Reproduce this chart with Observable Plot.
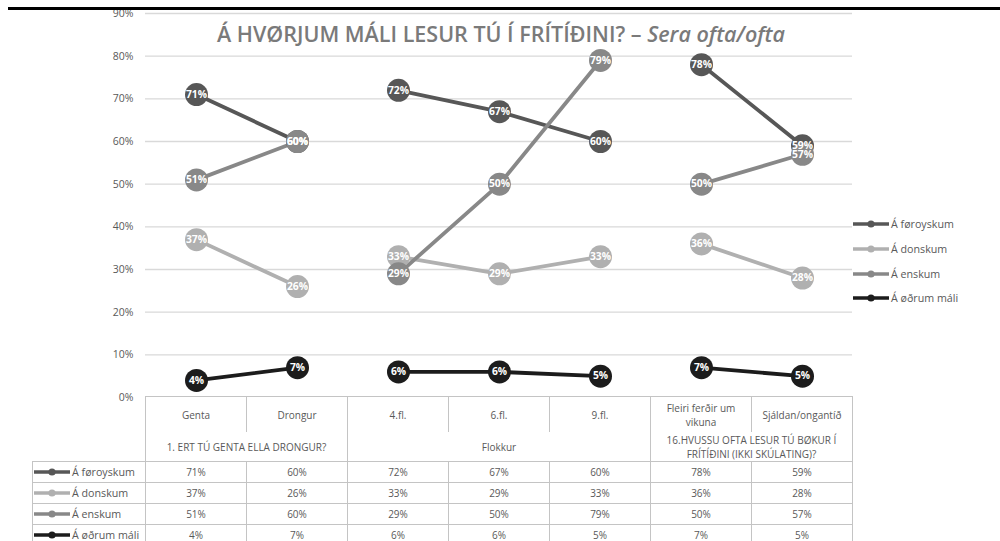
<!DOCTYPE html>
<html>
<head>
<meta charset="utf-8">
<script src="https://cdn.jsdelivr.net/npm/d3@7"></script>
<script src="https://cdn.jsdelivr.net/npm/@observablehq/plot@0.6"></script>
<style>
  html, body { margin: 0; padding: 0; background: #fff; width: 1000px; height: 541px; overflow: hidden; }
  #wrap { position: relative; width: 1000px; height: 541px; font-family: "Open Sans", Lato, sans-serif; color: #595959; }
  #topline { position: absolute; left: 8px; top: 7px; width: 992px; height: 2.5px; background: #000; z-index: 5; }
  #title { position: absolute; left: 145px; width: 712px; top: 20px; text-align: center; font-size: 21.5px; font-weight: 600; color: #7a7a7a; white-space: nowrap; line-height: 28px; }
  #title i { font-style: italic; }
  #chart { position: absolute; left: 0; top: 0; }
  #legend { position: absolute; left: 852px; top: 212px; font-size: 10.7px; }
  #legend .item { height: 24.7px; display: flex; align-items: center; }
  #legend svg, #tbl svg { margin-right: 1px; }
  #tbl { position: absolute; left: 32px; top: 396px; border-collapse: collapse; table-layout: fixed; font-size: 10px; color: #595959; }
  #tbl td { border: 1px solid #c4c4c4; text-align: center; padding: 0; line-height: 14px; white-space: nowrap; }
  #tbl td.blank { border: none; border-right: 1px solid #c4c4c4; }
  #tbl tr.r1 td { height: 35px; border-bottom: none; }
  #tbl tr.r2 td { height: 29px; border-top: none; }
  #tbl tr.rd td { height: 20px; }
  #tbl td.lg { text-align: left; font-size: 10.7px; }
  #tbl td.lg div { display: flex; align-items: center; }
</style>
</head>
<body>
<div id="wrap">
  <div id="chart"></div>
  <div id="title">Á HVØRJUM MÁLI LESUR TÚ Í FRÍTÍÐINI? – <i>Sera ofta/ofta</i></div>
  <div id="legend"></div>
  <table id="tbl"></table>
  <div id="topline"></div>
</div>
<script>
// ---- data ----
const categories = ["Genta", "Drongur", "4.fl.", "6.fl.", "9.fl.", "Fleiri ferðir um vikuna", "Sjáldan/ongantíð"];
const categoryGroup = [0, 0, 1, 1, 1, 2, 2];
const groupLabels = ["1. ERT TÚ GENTA ELLA DRONGUR?", "Flokkur", "16.HVUSSU OFTA LESUR TÚ BØKUR Í FRÍTÍÐINI (IKKI SKÚLATING)?"];
const seriesNames = ["Á føroyskum", "Á donskum", "Á enskum", "Á øðrum máli"];
const seriesColors = ["#575757", "#b0b0b0", "#888888", "#1c1c1c"];
const foroyskum = [0.71, 0.60, 0.72, 0.67, 0.60, 0.78, 0.59];
const donskum   = [0.37, 0.26, 0.33, 0.29, 0.33, 0.36, 0.28];
const enskum    = [0.51, 0.60, 0.29, 0.50, 0.79, 0.50, 0.57];
const odrum     = [0.04, 0.07, 0.06, 0.06, 0.05, 0.07, 0.05];
const yTicks = [0, 0.1, 0.2, 0.3, 0.4, 0.5, 0.6, 0.7, 0.8, 0.9];

const seriesValues = [foroyskum, donskum, enskum, odrum];
const data = [];
seriesNames.forEach((s, si) => {
  categories.forEach((c, ci) => {
    data.push({series: s, cat: c, v: seriesValues[si][ci], key: s + "|" + categoryGroup[ci]});
  });
});
const pct = d3.format(".0%");

const chart = Plot.plot({
  width: 1000,
  height: 541,
  marginLeft: 145,
  marginRight: 148,
  marginTop: 13,
  marginBottom: 144,
  style: {fontFamily: "'Open Sans', Lato, sans-serif", fontSize: "10.5px", color: "#595959", background: "transparent", overflow: "visible"},
  x: {type: "point", domain: categories, padding: 0.5, axis: null},
  y: {domain: [0, 0.9], ticks: yTicks, tickFormat: pct, tickSize: 0, tickPadding: 12, label: null},
  color: {domain: seriesNames, range: seriesColors},
  marks: [
    Plot.ruleY(yTicks.slice(1), {stroke: "#d9d9d9", strokeWidth: 1.3}),
    Plot.line(data, {x: "cat", y: "v", z: "key", stroke: "series", strokeWidth: 3.8}),
    Plot.dot(data, {x: "cat", y: "v", r: 11.5, fill: "series"}),
    Plot.text(data, {x: "cat", y: "v", text: d => pct(d.v), fill: "white", fontWeight: "bold", fontSize: 10.3})
  ]
});
document.getElementById("chart").appendChild(chart);

function swatch(color) {
  return `<svg width="38" height="8"><line x1="1" x2="37" y1="4" y2="4" stroke="${color}" stroke-width="3.5"/><circle cx="19" cy="4" r="3.6" fill="${color}"/></svg>`;
}

// right legend
document.getElementById("legend").innerHTML = seriesNames.map((s, i) =>
  `<div class="item">${swatch(seriesColors[i])}<span>${s}</span></div>`).join("");

// data table
let html = `<colgroup><col style="width:113px">${categories.map(() => '<col style="width:101px">').join("")}</colgroup>`;
html += `<tr class="r1"><td class="blank"></td>${categories.map(c => `<td>${c === "Fleiri ferðir um vikuna" ? "Fleiri ferðir um<br>vikuna" : c}</td>`).join("")}</tr>`;
html += `<tr class="r2"><td class="blank"></td>${groupLabels.map((g, gi) => {
  const span = categoryGroup.filter(x => x === gi).length;
  const txt = gi === 2 ? "16.HVUSSU OFTA LESUR TÚ BØKUR Í<br>FRÍTÍÐINI (IKKI SKÚLATING)?" : g;
  return `<td colspan="${span}">${txt}</td>`;
}).join("")}</tr>`;
seriesNames.forEach((s, si) => {
  html += `<tr class="rd"><td class="lg"><div>${swatch(seriesColors[si])}<span>${s}</span></div></td>${seriesValues[si].map(v => `<td>${pct(v)}</td>`).join("")}</tr>`;
});
document.getElementById("tbl").innerHTML = html;
</script>
</body>
</html>
